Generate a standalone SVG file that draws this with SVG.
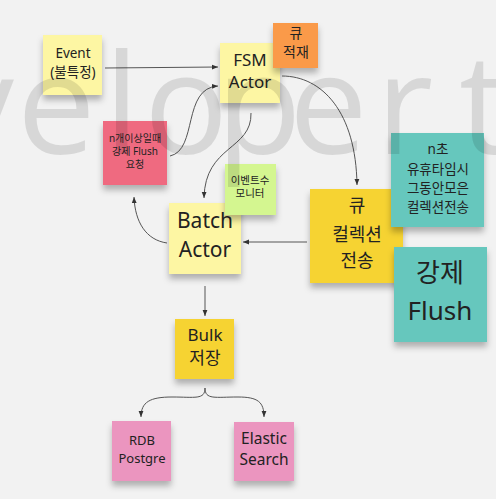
<svg xmlns="http://www.w3.org/2000/svg" width="496" height="499" viewBox="0 0 496 499">
<defs>
<filter id="sh" x="-20%" y="-20%" width="140%" height="150%">
<feDropShadow dx="0" dy="5" stdDeviation="3" flood-color="#000" flood-opacity="0.28"/>
</filter>
<marker id="ar" viewBox="0 0 10 10" refX="10" refY="5" markerWidth="6" markerHeight="6" orient="auto" markerUnits="userSpaceOnUse">
<path d="M0,1 L10,5 L0,9 z" fill="#333"/>
</marker>
<style>
.n{filter:url(#sh);}
.t{font-family:"Noto Sans","Noto Sans CJK KR",sans-serif;fill:#222;text-anchor:middle;}
.c{fill:none;stroke:#555;stroke-width:1;marker-end:url(#ar);}
.pale{fill:#fdf6a3;}
.gold{fill:#f6d333;}
.teal{fill:#66c7bd;}
.pink{fill:#eb95bf;}
</style>
</defs>
<rect width="496" height="499" fill="#f2f2f2"/>

<g id="event">
<rect class="n pale" x="43" y="35" width="59" height="60"/>
<text class="t" font-size="13.5"><tspan x="73" y="58">Event</tspan><tspan x="73" y="77">(불특정)</tspan></text>
</g>
<g id="fsm">
<rect class="n pale" x="220" y="43" width="60" height="60"/>
<text class="t" font-size="17"><tspan x="250" y="66">FSM</tspan><tspan x="250" y="88">Actor</tspan></text>
</g>
<g id="queue-stack">
<rect class="n" x="273" y="23" width="45" height="45" fill="#fa9a48"/>
<text class="t" font-size="14"><tspan x="296" y="38">큐</tspan><tspan x="296" y="57">적재</tspan></text>
</g>
<g id="force-req">
<rect class="n" x="103" y="121" width="64" height="64" fill="#ef6b80"/>
<text class="t" font-size="10" fill="#3a1a20"><tspan x="135" y="142">n개이상일때</tspan><tspan x="135" y="155">강제 Flush</tspan><tspan x="135" y="168">요청</tspan></text>
</g>
<g id="batch">
<rect class="n pale" x="169" y="203" width="72" height="71"/>
<text class="t" font-size="21"><tspan x="205" y="228">Batch</tspan><tspan x="205" y="257">Actor</tspan></text>
</g>
<g id="monitor">
<rect class="n" x="225" y="164" width="51" height="51" fill="#d4f690"/>
<text class="t" font-size="10.5" fill="#444"><tspan x="250" y="184">이벤트수</tspan><tspan x="250" y="197">모니터</tspan></text>
</g>
<g id="queue-send">
<rect class="n gold" x="310" y="189" width="93" height="94"/>
<text class="t" font-size="18"><tspan x="357" y="212">큐</tspan><tspan x="357" y="241">컬렉션</tspan><tspan x="357" y="267">전송</tspan></text>
</g>
<g id="idle">
<rect class="n teal" x="391" y="133" width="93" height="94"/>
<text class="t" font-size="13.5"><tspan x="438" y="154">n초</tspan><tspan x="438" y="174">유휴타임시</tspan><tspan x="438" y="193">그동안모은</tspan><tspan x="438" y="212">컬렉션전송</tspan></text>
</g>
<g id="force-flush">
<rect class="n teal" x="394" y="247" width="93" height="95"/>
<text class="t" font-size="26"><tspan x="440" y="282">강제</tspan><tspan x="440" y="320">Flush</tspan></text>
</g>
<g id="bulk">
<rect class="n gold" x="175" y="319" width="59" height="60"/>
<text class="t" font-size="17"><tspan x="205" y="341">Bulk</tspan><tspan x="205" y="364">저장</tspan></text>
</g>
<g id="rdb">
<rect class="n pink" x="112" y="421" width="59" height="60"/>
<text class="t" font-size="13"><tspan x="142" y="445">RDB</tspan><tspan x="142" y="463">Postgre</tspan></text>
</g>
<g id="elastic">
<rect class="n pink" x="234" y="422" width="60" height="59"/>
<text class="t" font-size="15.5"><tspan x="264" y="444">Elastic</tspan><tspan x="264" y="465">Search</tspan></text>
</g>

<g id="connectors">
<path class="c" d="M105,68 L218,67"/>
<path class="c" d="M170,156 C198,150 182,88 218,86"/>
<path class="c" d="M251,113 C252,150 205,145 204,198"/>
<path class="c" d="M282,76 C322,76 356,112 357,185"/>
<path class="c" d="M307,242 L243,242"/>
<path class="c" d="M167,243 C146,240 135,222 134,197"/>
<path class="c" d="M205,286 L205,316"/>
<path class="c" d="M205,388 C205,400 195,397 172,397 C150,397 141,402 141,417"/>
<path class="c" d="M205,388 C205,400 215,397 238,397 C258,397 264,402 264,417"/>
</g>

<text font-family="'Open Sans',sans-serif" font-size="140" fill="#000" fill-opacity="0.11" x="-56 17 104 144 216 289 376 420 459" y="154">veloper t</text>
</svg>
